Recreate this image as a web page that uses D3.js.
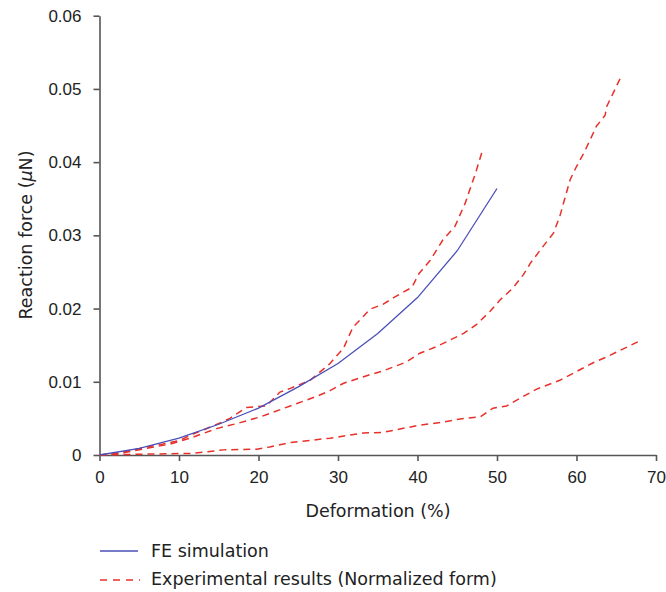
<!DOCTYPE html>
<html><head><meta charset="utf-8">
<script src="https://cdn.jsdelivr.net/npm/d3@7/dist/d3.min.js"></script>
<style>body{margin:0;background:#fff}svg{display:block}</style>
</head><body><svg id="c" width="666" height="592"></svg>
<script>
const xTicks=[0,10,20,30,40,50,60,70];
const yTicks=[0,0.01,0.02,0.03,0.04,0.05,0.06];
const feX=[0,5,10,15,20,25,30,35,40,45,50];
const feY=[0,0.0009,0.0023,0.0042,0.0064,0.0093,0.0125,0.0166,0.0215,0.0279,0.0364];
const exp1X=[0,2,5.1,8,10.1,11.4,13,15,16.4,18.5,21,22.7,24,26.5,29,30.7,31.9,33,34,35.7,37,39.3,40.2,41.6,43.2,44.7,46,47.3,48.2];
const exp1Y=[0,0.0002,0.0009,0.0015,0.002,0.0027,0.0034,0.0043,0.005,0.0065,0.0067,0.0086,0.0091,0.0102,0.0125,0.0146,0.0175,0.0187,0.0199,0.0206,0.0215,0.0229,0.0248,0.0266,0.0294,0.0312,0.0344,0.0385,0.0417];
const exp2X=[0,3,5.9,8.9,11.4,14.7,17.3,20.2,24,27.3,29,30.7,33.8,35.7,38.6,40.3,42.4,45.8,47.4,49.1,50.4,52,53.3,54.2,55.8,57.1,57.9,58.6,59.2,60,60.9,61.7,62.5,63.6,63.8,64.6,65.7];
const exp2Y=[0,0.0003,0.0009,0.0015,0.0023,0.0036,0.0043,0.0052,0.0067,0.008,0.0088,0.0098,0.0109,0.0115,0.0127,0.0139,0.0148,0.0166,0.0178,0.0196,0.0212,0.0228,0.0246,0.0262,0.0285,0.0303,0.0326,0.0353,0.0376,0.0394,0.0412,0.043,0.0449,0.0464,0.0476,0.0494,0.0519];
const exp3X=[0,5,10,11.4,15.6,19.8,21.4,24,29,33.2,35.7,39.9,43.2,45.8,47.9,49.5,51.2,53.3,55,57.9,60,62.1,63.8,65.5,68];
const exp3Y=[0,0.0001,0.0002,0.0002,0.0007,0.0008,0.0011,0.0017,0.0023,0.003,0.0031,0.004,0.0045,0.005,0.0052,0.0064,0.0067,0.008,0.009,0.0102,0.0114,0.0126,0.0134,0.0143,0.0156];
const seriesNames=["FE simulation","Experimental results (Normalized form)"];

const TICKFONT="'Liberation Sans',Arial,sans-serif";
const LABFONT="'DejaVu Sans',sans-serif";
const svg=d3.select("#c");
const x=d3.scaleLinear().domain([0,70]).range([99.5,656]);
const y=d3.scaleLinear().domain([0,0.06]).range([455,15.7]);
const axisColor="#555";
const blue="#4a4fb8", red="#e8302a";

const gx=svg.append("g").attr("transform","translate(0,455)")
 .call(d3.axisBottom(x).tickValues(xTicks).tickSize(6).tickPadding(7).tickSizeOuter(0));
const gy=svg.append("g").attr("transform","translate(99.5,0)")
 .call(d3.axisLeft(y).tickValues(yTicks).tickSize(6).tickPadding(12).tickSizeOuter(0)
   .tickFormat(d=>d===0?"0":d3.format(".2f")(d)));
[gx,gy].forEach(g=>{
 g.attr("font-family",TICKFONT).attr("font-size",17);
 g.selectAll("path,line").attr("stroke",axisColor).attr("stroke-width",1.6);
 g.selectAll("text").attr("fill","#222");
});
gx.selectAll("text").attr("dy","0.9em");

const line=d3.line().x(d=>x(d[0])).y(d=>y(d[1]));
const zip=(a,b)=>a.map((v,i)=>[v,b[i]]);
[[exp1X,exp1Y],[exp2X,exp2Y],[exp3X,exp3Y]].forEach(([a,b])=>{
 svg.append("path").datum(zip(a,b)).attr("d",line).attr("fill","none")
  .attr("stroke",red).attr("stroke-width",1.5).attr("stroke-dasharray","7,5");
});
svg.append("path").datum(zip(feX,feY)).attr("d",line).attr("fill","none")
 .attr("stroke",blue).attr("stroke-width",1.3);

function txt(){return svg.append("text").attr("font-family",LABFONT).attr("font-size",17.5).attr("fill","#222");}
txt().attr("x",378).attr("y",517).attr("text-anchor","middle").text("Deformation (%)");
const yl=txt().attr("transform","translate(32,235) rotate(-90)").attr("text-anchor","middle");
yl.append("tspan").text("Reaction force (");
yl.append("tspan").attr("font-style","italic").text("μ");
yl.append("tspan").text("N)");

// legend
svg.append("line").attr("x1",100).attr("x2",138).attr("y1",551).attr("y2",551)
 .attr("stroke",blue).attr("stroke-width",1.3);
txt().attr("x",151).attr("y",557).text(seriesNames[0]);
svg.append("line").attr("x1",100).attr("x2",140).attr("y1",580).attr("y2",580)
 .attr("stroke",red).attr("stroke-width",1.5).attr("stroke-dasharray","7,6");
txt().attr("x",151).attr("y",585).text(seriesNames[1]);
</script></body></html>
